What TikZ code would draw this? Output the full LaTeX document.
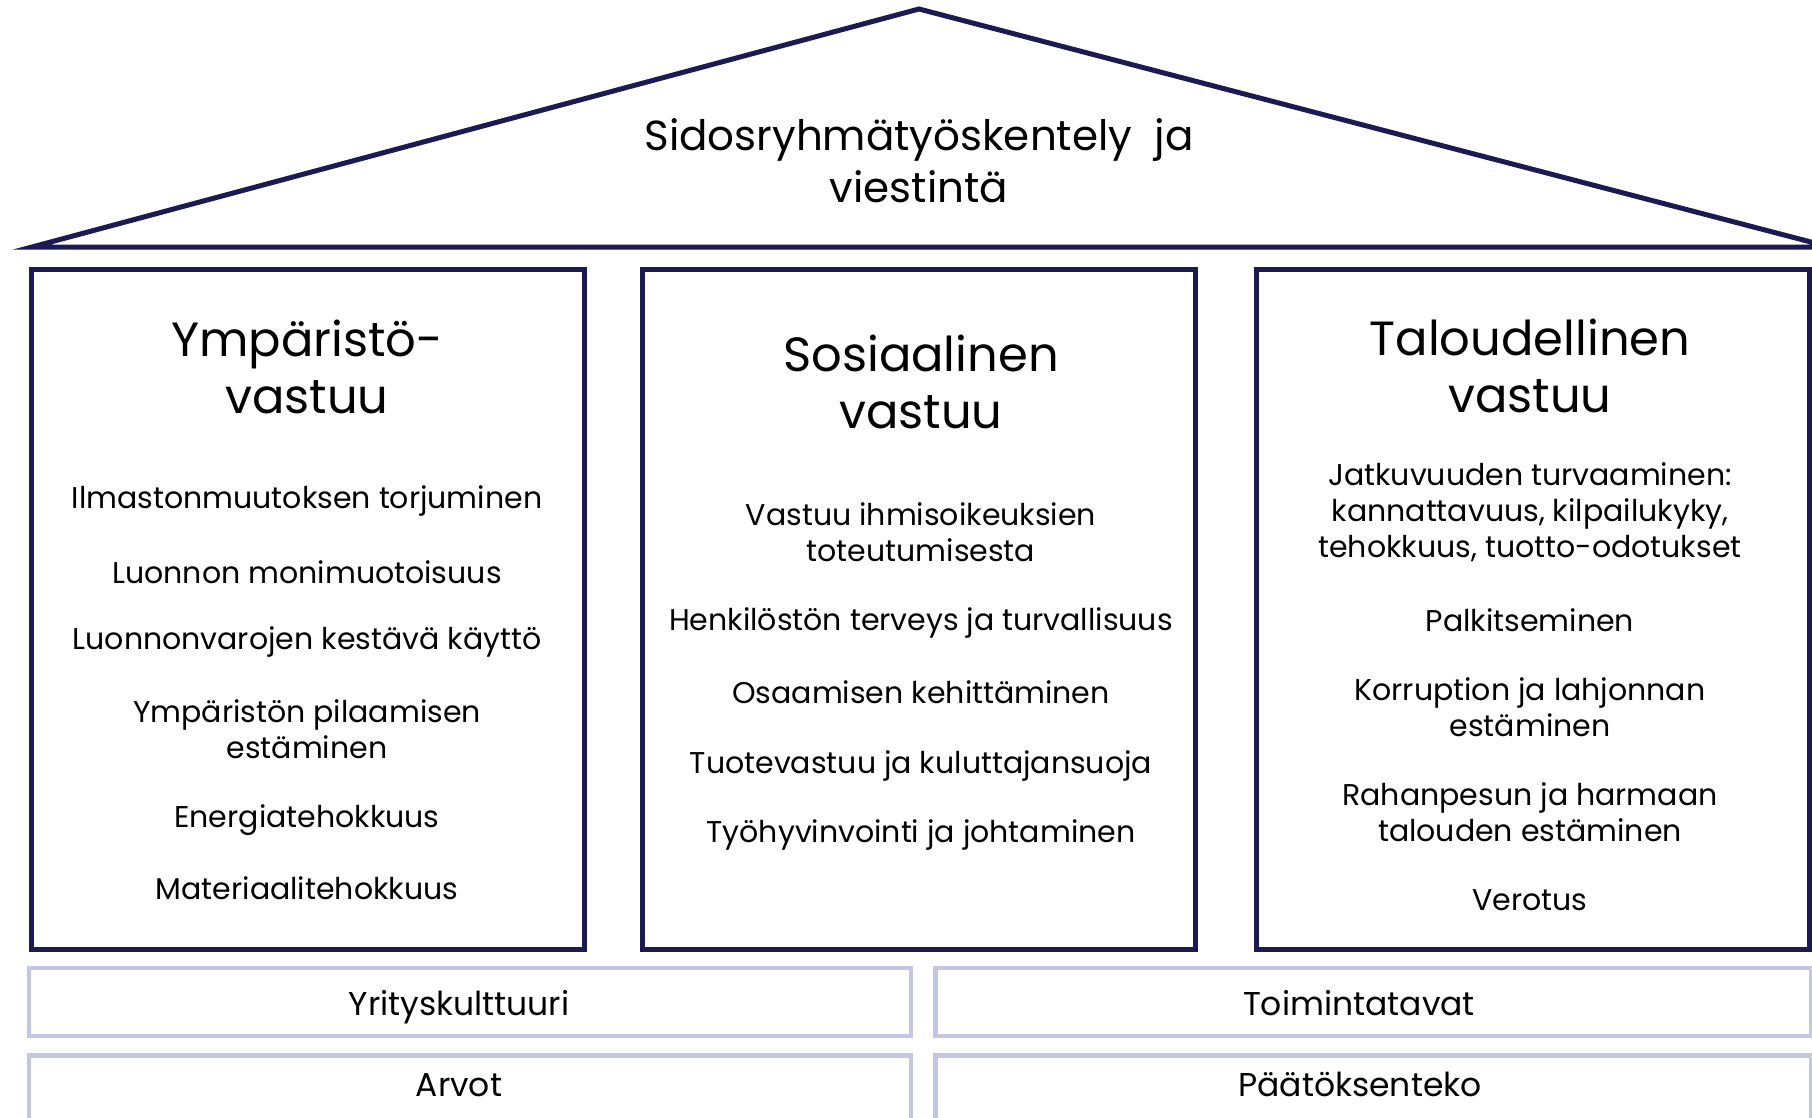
\documentclass[tikz,border=0pt]{standalone}
\usepackage{fontspec}
\setmainfont{Poppins}
\usetikzlibrary{positioning}
\definecolor{navy}{RGB}{28,26,82}
\definecolor{lilac}{RGB}{197,197,230}

\begin{document}
\begin{tikzpicture}[x=1pt,y=-1pt]
		\tikzstyle{pillar} = [rectangle,draw=navy,line width=5pt,minimum width=553pt,minimum height=680pt,inner sep=0pt]
		\tikzstyle{base} = [rectangle,draw=lilac,line width=4.5pt,minimum width=882pt,minimum height=68pt,inner sep=0pt]
		\tikzstyle{head} = [align=center,font=\fontsize{48}{57}\selectfont]
		\tikzstyle{item} = [align=center,font=\fontsize{30}{36}\selectfont]
		\tikzstyle{label} = [anchor=base,inner sep=0pt,font=\fontsize{33}{36}\selectfont]
		
		\useasboundingbox (0,0) rectangle (1812,1118);
		
		% roof
		\coordinate (eaveL) at (32,247);
		\coordinate (apex) at (919,9);
		\coordinate (eaveR) at (1830,247);
		\draw[navy,line width=5pt] (eaveL)--(apex)--(eaveR)--cycle;
		\node[align=center,font=\fontsize{42}{52}\selectfont] (roof) at (919,161) {Sidosryhmätyöskentely\ \ ja\\viestintä};
		
		% pillars
		\node[pillar] (env) at (307.5,609.5) {};
		\node[pillar] (soc) at (919,609.5) {};
		\node[pillar] (eco) at (1532.5,609.5) {};
		
		\node[head] (envh) at (307,367) {Ympäristö-\\vastuu};
		\node[item] (env1) at (307,501) {Ilmastonmuutoksen torjuminen};
		\node[item] (env2) at (307,572) {Luonnon monimuotoisuus};
		\node[item] (env3) at (307,642) {Luonnonvarojen kestävä käyttö};
		\node[item] (env4) at (307,729) {Ympäristön pilaamisen\\estäminen};
		\node[item] (env5) at (307,820) {Energiatehokkuus};
		\node[item] (env6) at (307,888) {Materiaalitehokkuus};
		
		\node[head] (soch) at (921,382) {Sosiaalinen\\vastuu};
		\node[item] (soc1) at (921,532) {Vastuu ihmisoikeuksien\\toteutumisesta};
		\node[item] (soc2) at (921,623) {Henkilöstön terveys ja turvallisuus};
		\node[item] (soc3) at (921,692) {Osaamisen kehittäminen};
		\node[item] (soc4) at (921,766) {Tuotevastuu ja kuluttajansuoja};
		\node[item] (soc5) at (921,835) {Työhyvinvointi ja johtaminen};
		
		\node[head] (ecoh) at (1530,366) {Taloudellinen\\vastuu};
		\node[item] (eco1) at (1530,512) {Jatkuvuuden turvaaminen:\\kannattavuus, kilpailukyky,\\tehokkuus, tuotto-odotukset};
		\node[item] (eco2) at (1530,620) {Palkitseminen};
		\node[item] (eco3) at (1530,707) {Korruption ja lahjonnan\\estäminen};
		\node[item] (eco4) at (1530,812) {Rahanpesun ja harmaan\\talouden estäminen};
		\node[item] (eco5) at (1530,900) {Verotus};
		
		% foundation
		\node[base] (culture) at (470,1002) {};
		\node[base,right=20pt of culture,minimum width=876pt] (practice) {};
		\node[base,below=15pt of culture,minimum height=80pt] (values) {};
		\node[base,below=15pt of practice,minimum width=876pt,minimum height=80pt] (decide) {};
		\node[label] (culturel) at (459,1015) {Yrityskulttuuri};
		\node[label] (practicel) at (1359,1015) {Toimintatavat};
		\node[label] (valuesl) at (459,1096) {Arvot};
		\node[label] (decidel) at (1360,1096) {Päätöksenteko};
	\end{tikzpicture}
\end{document}
